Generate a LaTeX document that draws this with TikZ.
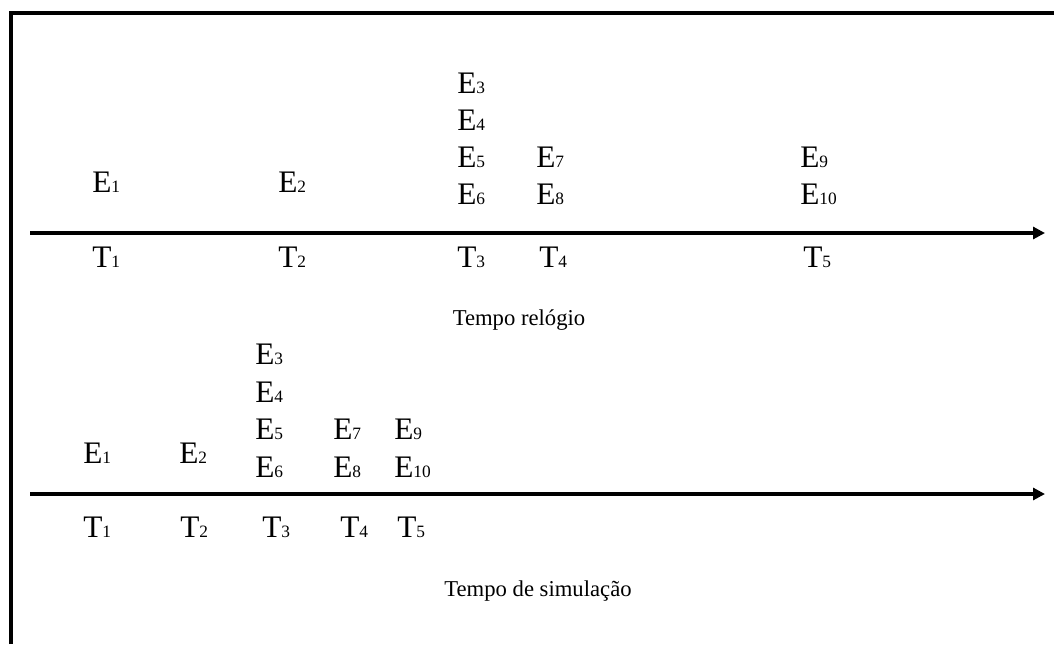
\documentclass[tikz,border=0pt]{standalone}
\usepackage{fontspec}
\setmainfont{Liberation Serif}
\usetikzlibrary{arrows.meta}
\newcommand{\evsub}[1]{{\fontsize{13pt}{13pt}\selectfont #1}}
\tikzset{
  evlabel/.style={anchor=base west, inner sep=0pt, font=\fontsize{23.5pt}{23.5pt}\selectfont},
  axislabel/.style={anchor=base, inner sep=0pt, font=\fontsize{17pt}{17pt}\selectfont},
  timeaxis/.style={line width=2.9pt, -{Triangle[length=9pt,width=9pt]}},
  frameline/.style={line width=2.8pt},
}

\begin{document}
\begin{tikzpicture}[x=0.75pt, y=-0.75pt]%
\useasboundingbox (0,0) rectangle (1054,644);%
\draw[frameline] (11,644) -- (11,13) -- (1054,13);%
% tempo relogio
\coordinate (relstart) at (30,233);%
\coordinate (relend) at (1045,233);%
\draw[timeaxis] (relstart) -- (relend);%
\node[evlabel] (rE1) at (92,192) {E\evsub{1}};%
\node[evlabel] (rE2) at (278,192) {E\evsub{2}};%
\node[evlabel] (rE3) at (457,93) {E\evsub{3}};%
\node[evlabel] (rE4) at (457,130) {E\evsub{4}};%
\node[evlabel] (rE5) at (457,167) {E\evsub{5}};%
\node[evlabel] (rE6) at (457,204) {E\evsub{6}};%
\node[evlabel] (rE7) at (536,167) {E\evsub{7}};%
\node[evlabel] (rE8) at (536,204) {E\evsub{8}};%
\node[evlabel] (rE9) at (800,167) {E\evsub{9}};%
\node[evlabel] (rE10) at (800,204) {E\evsub{10}};%
\node[evlabel] (rT1) at (92,267) {T\evsub{1}};%
\node[evlabel] (rT2) at (278,267) {T\evsub{2}};%
\node[evlabel] (rT3) at (457,267) {T\evsub{3}};%
\node[evlabel] (rT4) at (539,267) {T\evsub{4}};%
\node[evlabel] (rT5) at (803,267) {T\evsub{5}};%
\node[axislabel] (rellabel) at (519,325) {Tempo relógio};%
% tempo de simulacao
\coordinate (simstart) at (30,494);%
\coordinate (simend) at (1045,494);%
\draw[timeaxis] (simstart) -- (simend);%
\node[evlabel] (sE1) at (83,463) {E\evsub{1}};%
\node[evlabel] (sE2) at (179,463) {E\evsub{2}};%
\node[evlabel] (sE3) at (255,364) {E\evsub{3}};%
\node[evlabel] (sE4) at (255,402) {E\evsub{4}};%
\node[evlabel] (sE5) at (255,439) {E\evsub{5}};%
\node[evlabel] (sE6) at (255,477) {E\evsub{6}};%
\node[evlabel] (sE7) at (333,439) {E\evsub{7}};%
\node[evlabel] (sE8) at (333,477) {E\evsub{8}};%
\node[evlabel] (sE9) at (394,439) {E\evsub{9}};%
\node[evlabel] (sE10) at (394,477) {E\evsub{10}};%
\node[evlabel] (sT1) at (83,537) {T\evsub{1}};%
\node[evlabel] (sT2) at (180,537) {T\evsub{2}};%
\node[evlabel] (sT3) at (262,537) {T\evsub{3}};%
\node[evlabel] (sT4) at (340,537) {T\evsub{4}};%
\node[evlabel] (sT5) at (397,537) {T\evsub{5}};%
\node[axislabel] (simlabel) at (538,596) {Tempo de simulação};%
\end{tikzpicture}
\end{document}
